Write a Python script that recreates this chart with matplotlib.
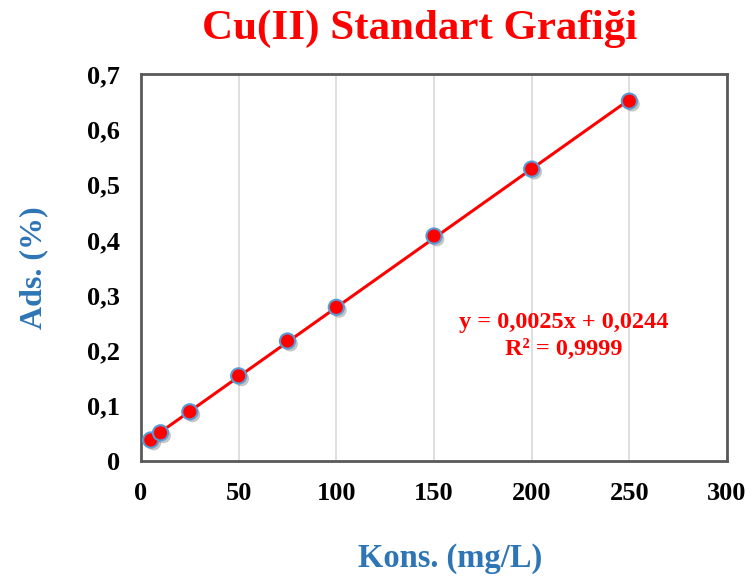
import numpy as np
import matplotlib
matplotlib.use("Agg")
import matplotlib.pyplot as plt
import matplotlib.patheffects as pe

# Cu(II) standart verisi
kons = np.array([5, 10, 25, 50, 75, 100, 150, 200, 250])
ads = np.array([0.038, 0.051, 0.089, 0.154, 0.217, 0.278, 0.407, 0.528, 0.651])

xticks = [0, 50, 100, 150, 200, 250, 300]
yticks = [0, 0.1, 0.2, 0.3, 0.4, 0.5, 0.6, 0.7]
ytick_labels = ["0", "0,1", "0,2", "0,3", "0,4", "0,5", "0,6", "0,7"]

plt.rcParams['font.family'] = ['Liberation Serif', 'DejaVu Serif']
plt.rcParams['font.weight'] = 'bold'

fig = plt.figure(figsize=(7.52, 5.81), dpi=100)
ax = fig.add_axes([0.1875, 0.2065, 0.7793, 0.6661])

# trend cizgisi
m, b = np.polyfit(kons, ads, 1)
xf = np.array([kons.min(), kons.max()])
ax.plot(xf, m * xf + b, color="#FF0000", lw=2.2, zorder=3)

ax.scatter(kons, ads, s=120, c="#FF0000", edgecolors="#5B9BD5", linewidths=1.5, zorder=4,
           path_effects=[pe.SimplePatchShadow(offset=(2, -2), shadow_rgbFace="#404040", alpha=0.3),
                         pe.Normal()])

ax.set_xlim(0, 300)
ax.set_ylim(0, 0.7)
ax.set_xticks(xticks)
ax.set_yticks(yticks)
ax.set_yticklabels(ytick_labels)
ax.tick_params(length=0, labelsize=19, pad=15)
for lbl in ax.get_xticklabels() + ax.get_yticklabels():
    lbl.set_fontweight('bold')

ax.grid(axis='x', color="#D9D9D9", lw=1.2)
ax.set_axisbelow(True)
for s in ax.spines.values():
    s.set_color("#595959")
    s.set_linewidth(2)

fig.text(0.5585, 0.951, "Cu(II) Standart Grafiği", color="#FF0000", fontsize=31,
         fontweight='bold', ha='center', va='center')
ax.set_xlabel("Kons. (mg/L)", color="#2E75B6", fontsize=23.5, fontweight='bold')
ax.xaxis.set_label_coords(0.527, -0.212)
ax.set_ylabel("Ads. (%)", color="#2E75B6", fontsize=23, fontweight='bold', labelpad=28)

ax.text(216.5, 0.226, "y = 0,0025x + 0,0244\nR² = 0,9999", color="#FF0000", fontsize=17.5,
        fontweight='bold', ha='center', va='center', linespacing=1.4)

fig.savefig("out.png", dpi=100)
